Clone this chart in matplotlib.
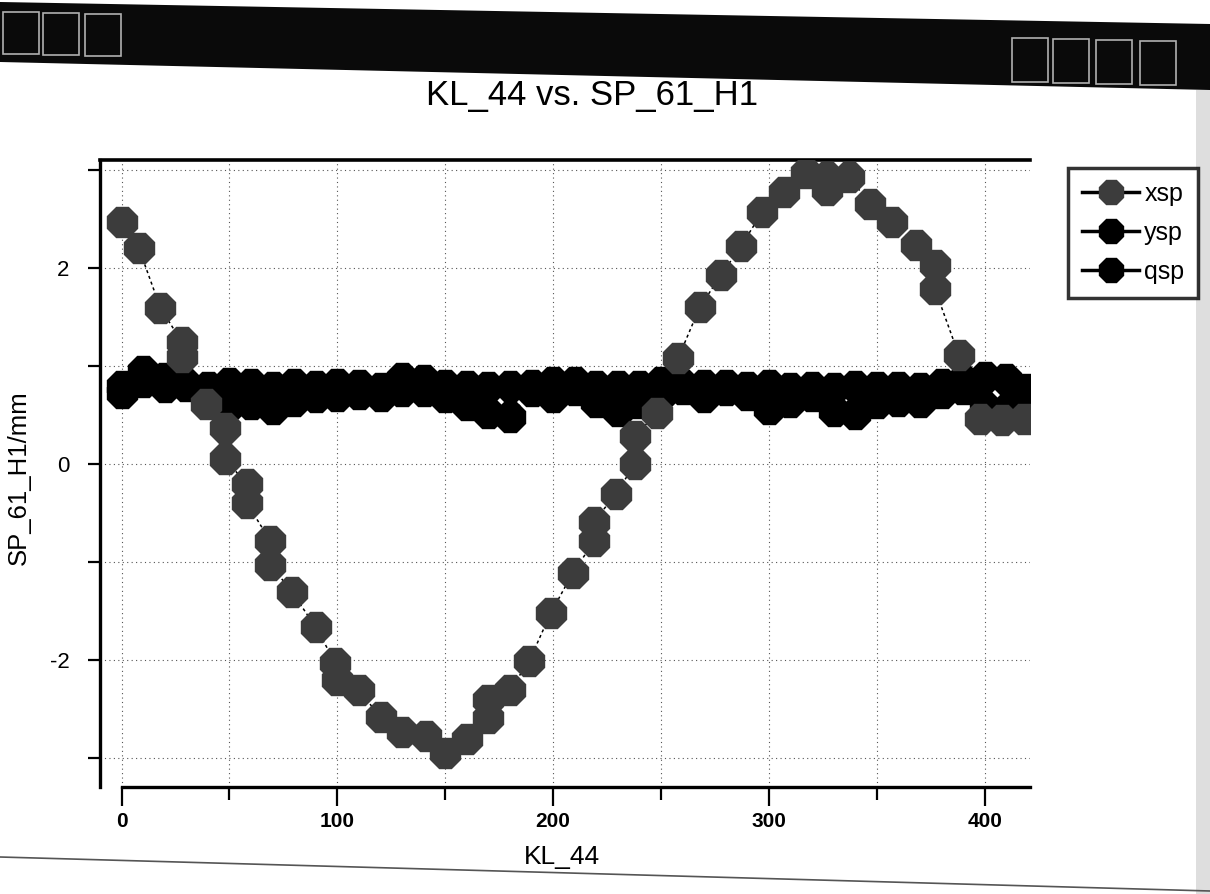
import matplotlib
matplotlib.use("Agg")
import matplotlib.pyplot as plt
from matplotlib.lines import Line2D
from matplotlib.patches import Polygon, Rectangle
from matplotlib.ticker import MultipleLocator

# ---------------- data ----------------
title = "KL_44 vs. SP_61_H1"
xlabel = "KL_44"
ylabel = "SP_61_H1/mm"
series_names = ["xsp", "ysp", "qsp"]

xsp_x = [0, 8, 18, 28, 28, 39, 48, 48, 58, 58, 69, 69, 79, 90, 99, 100, 110, 120,
         130, 141, 150, 160, 170, 170, 180, 189, 199, 209, 219, 219, 229, 238, 238,
         248, 258, 268, 278, 287, 297, 307, 317, 327, 327, 337, 347, 357, 368, 377,
         377, 388, 398, 408, 418]
xsp_y = [2.47, 2.20, 1.59, 1.24, 1.09, 0.61, 0.36, 0.05, -0.21, -0.40, -0.79, -1.03,
         -1.31, -1.67, -2.03, -2.21, -2.31, -2.59, -2.74, -2.78, -2.95, -2.81, -2.60,
         -2.41, -2.31, -2.01, -1.52, -1.12, -0.79, -0.59, -0.31, 0.00, 0.28, 0.52,
         1.08, 1.60, 1.93, 2.22, 2.57, 2.77, 2.97, 2.93, 2.79, 2.93, 2.65, 2.47, 2.23,
         2.03, 1.78, 1.11, 0.46, 0.45, 0.46]

kl = [0, 10, 20, 30, 40, 50, 60, 70, 80, 90, 100, 110, 120, 130, 140, 150, 160,
      170, 180, 190, 200, 210, 220, 230, 240, 250, 260, 270, 280, 290, 300, 310,
      320, 330, 340, 350, 360, 370, 380, 390, 400, 410, 420]
ysp = [0.79, 0.95, 0.87, 0.81, 0.78, 0.82, 0.81, 0.78, 0.81, 0.79, 0.81, 0.80, 0.77,
       0.87, 0.85, 0.80, 0.79, 0.78, 0.79, 0.80, 0.83, 0.83, 0.79, 0.79, 0.79, 0.83,
       0.80, 0.80, 0.80, 0.78, 0.80, 0.77, 0.78, 0.77, 0.79, 0.78, 0.78, 0.77, 0.81,
       0.85, 0.89, 0.86, 0.76]
qsp = [0.72, 0.83, 0.78, 0.79, 0.72, 0.59, 0.61, 0.56, 0.64, 0.68, 0.69, 0.71, 0.69,
       0.74, 0.74, 0.68, 0.60, 0.52, 0.48, 0.74, 0.68, 0.75, 0.63, 0.54, 0.62, 0.70,
       0.76, 0.68, 0.75, 0.70, 0.56, 0.63, 0.69, 0.54, 0.51, 0.62, 0.64, 0.63, 0.72,
       0.76, 0.58, 0.55, 0.56]

xticks_major = [0, 100, 200, 300, 400]
yticks_major = [-2, 0, 2]

# ---------------- figure ----------------
plt.rcParams['font.family'] = ['Liberation Sans', 'DejaVu Sans']
plt.rcParams['axes.unicode_minus'] = False
W, H = 1210, 894
fig = plt.figure(figsize=(W / 100, H / 100), dpi=100, facecolor='white')

# background decoration (window chrome) in pixel coordinates
bg = fig.add_axes([0, 0, 1, 1], zorder=-5)
bg.set_xlim(0, W)
bg.set_ylim(H, 0)
bg.axis('off')
bg.add_patch(Polygon([(0, 2), (W, 24), (W, 90), (0, 62)], closed=True,
                     facecolor='#0a0a0a', edgecolor='none'))
for x0 in (3, 43, 85):
    yy = 12 + x0 * 0.018
    bg.add_patch(Rectangle((x0, yy), 36, 42, facecolor='none',
                           edgecolor='#b0b0b0', lw=1.2))
for x0 in (1012, 1053, 1096, 1140):
    yy = 38 + (x0 - 1000) * 0.018
    bg.add_patch(Rectangle((x0, yy), 36, 44, facecolor='none',
                           edgecolor='#b0b0b0', lw=1.2))
bg.plot([0, W], [857, 891], color='#555555', lw=1.2)
bg.add_patch(Rectangle((1196, 90), 14, H - 90, facecolor='#c8c8c8',
                       edgecolor='none', alpha=0.6))

# main axes
ax = fig.add_axes([100 / W, 1 - 787 / H, 930 / W, 627 / H])
ax.set_xlim(-10, 421)
ax.set_ylim(-3.3, 3.1)

MS = 24
line_kw = dict(color='black', lw=1.1, linestyle=(0, (2, 2)))
ax.plot(kl, ysp, marker='8', markersize=MS, markerfacecolor='black',
        markeredgecolor='black', zorder=3, **line_kw)
ax.plot(kl, qsp, marker='8', markersize=MS, markerfacecolor='black',
        markeredgecolor='black', zorder=3, **line_kw)
ax.plot(xsp_x, xsp_y, marker='8', markersize=MS, markerfacecolor='#3c3c3c',
        markeredgecolor='#3c3c3c', zorder=4, **line_kw)

# grid
ax.xaxis.set_minor_locator(MultipleLocator(50))
ax.yaxis.set_minor_locator(MultipleLocator(1))
ax.set_xticks(xticks_major)
ax.set_yticks(yticks_major)
ax.grid(True, which='both', color='#555555', lw=0.8, linestyle=(0, (1, 3)))
ax.set_axisbelow(True)

# spines
ax.spines['right'].set_visible(False)
ax.spines['top'].set_linewidth(2.6)
ax.spines['left'].set_linewidth(2.4)
ax.spines['bottom'].set_linewidth(2.4)
ax.spines['bottom'].set_bounds(0, 421)

ax.tick_params(axis='x', which='major', direction='out', length=14, width=1.6,
               pad=4, labelsize=15)
ax.tick_params(axis='x', which='minor', direction='out', length=9, width=1.6)
ax.tick_params(axis='y', which='both', direction='out', length=9, width=1.6,
               pad=13, labelsize=16)
for lab in ax.get_xticklabels():
    lab.set_family(['Liberation Sans Narrow', 'Liberation Sans'])
    lab.set_fontweight('bold')

ax.set_xlabel(xlabel, fontsize=19)
ax.xaxis.set_label_coords((562 - 100) / 930, (787 - 857) / 627)
ax.xaxis.label.set_va('center')
ax.set_ylabel(ylabel, fontsize=18.5)
ax.yaxis.set_label_coords((19 - 100) / 930, (787 - 478) / 627)
ax.yaxis.label.set_va('center')

fig.text(592 / W, 1 - 96 / H, title, ha='center', va='center', fontsize=25)

# legend
handles = [
    Line2D([], [], color='black', lw=2.5, marker='8', markersize=19,
           markerfacecolor='#3c3c3c', markeredgecolor='#3c3c3c'),
    Line2D([], [], color='black', lw=2.5, marker='8', markersize=19,
           markerfacecolor='black', markeredgecolor='black'),
    Line2D([], [], color='black', lw=2.5, marker='8', markersize=19,
           markerfacecolor='black', markeredgecolor='black'),
]
leg = ax.legend(handles, series_names, loc='upper left',
                bbox_to_anchor=(1068 / W, 1 - 168 / H),
                bbox_transform=fig.transFigure, fontsize=18, frameon=True,
                fancybox=False, edgecolor='black', handlelength=2.3,
                handletextpad=0.2, labelspacing=0.6, borderpad=0.55,
                borderaxespad=0)
leg.get_frame().set_linewidth(2.5)

fig.savefig('out.png', dpi=100, facecolor='white')
